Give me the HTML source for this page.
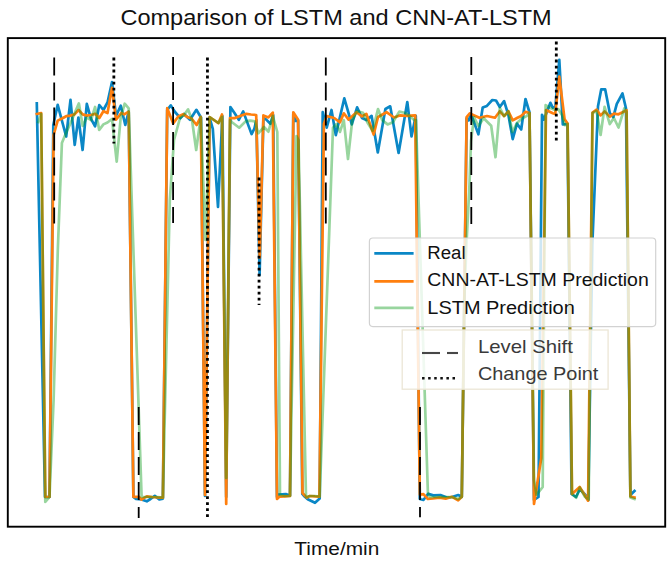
<!DOCTYPE html>
<html><head><meta charset="utf-8"><style>
html,body{margin:0;padding:0;background:#fff;width:672px;height:563px;overflow:hidden;}
svg{display:block;} .t{font-family:'Liberation Sans',sans-serif;}
</style></head><body>
<svg width="672" height="563" viewBox="0 0 672 563">
<rect width="672" height="563" fill="#fff"/>
<g fill="none" stroke-width="2.7" stroke-linejoin="round" stroke-linecap="square">
<polyline points="36.8,103.3 45.0,497.0 46.0,497.0 49.5,497.0 53.3,125.0 57.7,104.8 62.0,121.0 66.2,136.5 70.5,99.9 74.7,144.8 78.4,117.5 82.6,150.0 86.8,103.8 91.0,118.8 95.1,126.3 99.3,105.0 103.4,110.0 107.5,102.5 112.0,82.0 116.0,116.0 120.7,105.7 125.3,125.0 128.7,111.7 133.4,497.0 136.0,499.0 141.4,499.5 146.8,501.3 150.5,499.0 154.8,495.9 159.3,499.5 162.9,498.6 167.2,110.0 170.8,105.4 175.0,112.0 180.4,118.2 184.0,114.0 190.0,119.8 196.4,109.8 201.0,117.5 205.0,496.0 209.6,118.0 212.8,128.8 218.0,207.0 222.4,116.0 226.2,497.0 230.4,107.0 234.5,113.0 238.8,119.8 243.2,111.4 251.6,134.1 254.4,128.5 256.4,120.0 259.6,275.0 263.4,118.0 266.0,119.4 270.4,123.8 273.2,115.0 277.0,497.0 278.5,494.5 285.8,494.0 290.0,495.5 293.3,113.5 295.5,121.0 298.1,120.5 302.3,494.0 304.0,496.0 307.7,499.2 315.0,502.8 319.7,498.6 322.7,112.2 326.7,127.6 331.5,110.0 335.8,135.1 344.3,98.3 351.8,124.4 357.1,107.4 362.0,118.0 366.3,120.1 371.6,115.9 377.8,152.5 385.4,109.0 390.2,106.3 398.6,153.0 407.3,102.0 411.5,136.4 415.8,115.9 419.8,499.0 423.4,500.0 428.3,493.7 433.2,495.4 440.4,495.0 447.5,497.7 452.0,497.0 458.2,495.0 461.8,496.8 466.6,118.5 468.7,120.4 470.9,113.9 478.4,134.3 482.7,107.5 486.9,105.9 492.3,100.0 496.0,100.5 499.8,107.0 504.1,101.1 508.4,115.0 512.7,139.1 517.0,123.6 521.2,129.5 525.5,99.0 529.5,112.5 534.0,500.0 538.5,497.0 542.0,114.8 544.0,119.6 550.4,102.8 552.8,107.6 555.5,106.0 559.3,59.8 562.8,124.4 567.4,124.0 571.6,494.0 576.0,497.0 580.0,489.0 586.3,496.0 588.3,500.0 592.3,245.0 598.0,106.2 601.2,89.4 605.2,89.4 609.8,113.1 613.3,117.1 616.8,103.9 622.5,93.5 626.0,108.5 630.4,495.0 634.5,491.0" stroke="#0a87c6"/>
<polyline points="36.8,114.0 41.2,113.0 45.3,497.0 49.5,497.0 53.6,135.0 57.7,120.6 62.0,118.5 66.2,116.2 70.4,115.6 74.5,114.4 78.6,110.0 82.7,114.4 86.8,115.6 91.0,115.0 95.1,113.8 99.3,118.0 103.4,111.2 107.5,113.0 112.0,87.8 116.0,119.7 121.3,113.0 124.2,114.3 128.7,111.7 133.4,496.8 138.8,496.8 141.4,499.5 146.8,496.3 152.0,497.0 157.5,497.5 162.9,497.7 167.2,108.2 173.2,123.4 178.3,116.5 183.2,114.2 187.2,116.9 191.6,118.6 196.6,125.0 200.8,117.0 205.0,495.0 209.6,117.0 218.4,123.2 222.0,114.4 226.2,504.0 230.0,118.0 234.4,118.2 240.0,116.0 246.4,113.8 251.0,114.5 256.2,115.0 259.7,257.5 263.4,115.4 268.4,117.4 272.8,112.6 277.0,499.0 279.6,496.6 285.0,496.3 290.0,496.0 293.3,112.3 298.1,119.7 302.5,493.0 306.7,497.6 309.8,496.0 315.0,496.4 319.4,496.6 323.9,124.0 326.7,116.0 334.2,118.0 340.0,122.3 343.8,113.3 348.6,119.6 356.6,112.2 361.9,116.4 366.3,113.8 373.7,134.5 378.0,117.0 386.5,112.2 394.0,117.5 399.8,115.4 406.7,115.9 415.2,115.4 419.8,494.6 423.4,494.1 427.9,499.0 433.0,498.5 439.5,497.7 445.7,498.6 452.0,496.8 458.2,500.4 461.8,496.8 466.6,117.2 469.8,113.4 479.4,117.7 487.0,116.0 495.0,117.7 499.8,111.3 504.1,116.1 508.4,111.3 512.7,120.4 517.0,118.0 521.2,116.0 525.5,111.8 529.5,113.0 534.0,504.0 541.3,458.0 546.0,110.0 552.8,113.2 555.2,114.0 559.3,76.6 564.6,119.3 567.6,123.6 572.0,494.0 579.7,487.0 588.1,500.7 592.5,112.5 596.6,109.6 600.6,115.4 604.6,111.4 609.8,116.6 613.9,113.7 618.5,114.3 623.1,112.0 626.6,110.2 630.4,496.5 634.5,497.5" stroke="#ff7f0e"/>
<g stroke-opacity="0.42">
<polyline points="38.3,122.0 41.2,114.0 45.3,502.0 49.5,497.0 53.6,400.0 57.8,250.0 61.9,143.0 66.0,133.0 70.2,124.0 74.3,114.0 78.9,103.4 82.7,126.0 86.8,117.5 91.0,120.0 95.1,107.0 99.2,130.0 103.4,124.4 107.5,122.5 112.0,119.0 116.7,161.7 120.7,117.5 124.7,103.7 128.7,108.3 141.6,497.0 146.8,497.0 152.0,497.0 157.5,497.0 162.9,497.5 169.8,200.0 174.0,140.0 180.0,118.0 184.0,115.0 188.1,109.4 192.0,120.0 196.2,150.0 200.8,117.0 205.5,240.0 209.6,117.0 218.4,123.0 222.0,117.0 226.2,478.0 230.0,120.0 232.0,122.2 239.2,127.7 245.6,121.4 250.4,120.6 254.8,121.4 258.3,133.3 264.0,127.0 268.4,131.7 272.8,116.0 277.3,132.0 280.0,495.0 285.0,496.0 290.0,496.0 296.5,136.0 298.5,140.0 306.0,497.0 309.8,496.0 315.0,496.0 319.7,496.5 333.0,127.6 336.5,124.0 340.0,131.9 343.8,120.2 348.0,159.0 352.3,120.0 357.1,111.1 363.0,112.7 367.3,122.3 372.6,130.8 378.0,109.0 382.2,120.1 387.6,124.4 392.9,122.3 399.3,111.6 404.6,112.7 409.4,115.9 414.2,120.1 416.0,120.0 427.9,493.0 429.6,496.8 440.0,497.0 452.0,497.0 458.2,499.0 461.8,496.8 464.3,300.0 466.7,240.0 469.5,184.0 471.0,141.0 474.0,117.2 478.4,126.0 483.7,118.2 491.2,125.7 495.5,157.2 499.8,108.0 504.1,116.1 508.4,111.3 512.4,132.0 516.9,123.0 522.3,118.2 526.6,116.1 529.5,113.0 534.0,480.0 536.5,495.0 542.7,487.0 545.6,105.2 550.4,108.0 555.2,110.0 558.4,109.2 562.0,115.0 564.8,125.2 567.6,124.0 572.0,494.0 576.2,497.7 579.7,487.6 585.1,497.0 588.7,499.5 592.5,113.0 596.6,111.0 600.6,135.0 604.6,106.8 609.8,124.1 613.9,118.0 618.5,127.5 624.3,108.5 626.6,112.0 630.4,497.5 634.5,499.0" stroke="#0a9b19"/>
</g></g>
<line x1="54.2" y1="57.4" x2="54.2" y2="223.4" stroke="#000" stroke-width="1.8" stroke-dasharray="18 7"/>
<line x1="113.85" y1="57.6" x2="113.85" y2="143.6" stroke="#000" stroke-width="2.8" stroke-dasharray="2.8 3.208"/>
<line x1="173.1" y1="57.0" x2="173.1" y2="223.0" stroke="#000" stroke-width="1.8" stroke-dasharray="18 7"/>
<line x1="207.45" y1="57.6" x2="207.45" y2="517.2" stroke="#000" stroke-width="2.8" stroke-dasharray="2.8 3.208"/>
<line x1="259.05" y1="177.6" x2="259.05" y2="305.0" stroke="#000" stroke-width="2.8" stroke-dasharray="2.8 3.208"/>
<line x1="138.7" y1="406.9" x2="138.7" y2="518.0" stroke="#000" stroke-width="1.8" stroke-dasharray="18 7"/>
<line x1="325.8" y1="57.6" x2="325.8" y2="223.6" stroke="#000" stroke-width="1.8" stroke-dasharray="18 7"/>
<line x1="420.0" y1="407.0" x2="420.0" y2="517.3" stroke="#000" stroke-width="1.8" stroke-dasharray="18 7"/>
<line x1="471.3" y1="57.0" x2="471.3" y2="224.0" stroke="#000" stroke-width="1.8" stroke-dasharray="18 7"/>
<line x1="556.3" y1="41.6" x2="556.3" y2="141.0" stroke="#000" stroke-width="2.8" stroke-dasharray="2.8 3.208"/>
<rect x="7.8" y="38.1" width="657.4" height="488.6" fill="none" stroke="#000" stroke-width="1.9"/>
<text x="120.4" y="25" class="t" font-size="22" fill="#111" textLength="431.3" lengthAdjust="spacingAndGlyphs">Comparison of LSTM and CNN-AT-LSTM</text>
<text x="294.3" y="555" class="t" font-size="17.6" fill="#111" textLength="85" lengthAdjust="spacingAndGlyphs">Time/min</text>
<rect x="369.4" y="238" width="286.3" height="88.6" rx="3.5" fill="#fff" fill-opacity="0.8" stroke="#d2d2d2" stroke-width="1.2"/>
<line x1="374.3" y1="253.4" x2="413.6" y2="253.4" stroke="#0a87c6" stroke-width="2.7"/>
<line x1="374.3" y1="281.3" x2="413.6" y2="281.3" stroke="#ff7f0e" stroke-width="2.7"/>
<line x1="374.3" y1="307.9" x2="413.6" y2="307.9" stroke="#0a9b19" stroke-opacity="0.42" stroke-width="2.7"/>
<text x="427.3" y="258.8" class="t" font-size="18" fill="#111" textLength="38.3" lengthAdjust="spacingAndGlyphs">Real</text>
<text x="427.3" y="286.3" class="t" font-size="18" fill="#111" textLength="221.5" lengthAdjust="spacingAndGlyphs">CNN-AT-LSTM Prediction</text>
<text x="427.3" y="314.3" class="t" font-size="18" fill="#111" textLength="147.5" lengthAdjust="spacingAndGlyphs">LSTM Prediction</text>
<rect x="402.2" y="330" width="205.9" height="59.2" fill="#fff" fill-opacity="0.85" stroke="#ece6d6" stroke-width="1.3"/>
<line x1="422" y1="353" x2="440" y2="353" stroke="#474747" stroke-width="2.1"/>
<line x1="447" y1="353" x2="458" y2="353" stroke="#474747" stroke-width="2.1"/>
<rect x="422.05" y="377" width="2.5" height="2.5" fill="#111"/>
<rect x="428.14" y="377" width="2.5" height="2.5" fill="#111"/>
<rect x="434.23" y="377" width="2.5" height="2.5" fill="#111"/>
<rect x="440.32" y="377" width="2.5" height="2.5" fill="#111"/>
<rect x="446.41" y="377" width="2.5" height="2.5" fill="#111"/>
<rect x="452.50" y="377" width="2.5" height="2.5" fill="#111"/>
<text x="477.9" y="352.7" class="t" font-size="19" fill="#3a3a3a" textLength="95" lengthAdjust="spacingAndGlyphs">Level Shift</text>
<text x="477.9" y="379.8" class="t" font-size="19" fill="#3a3a3a" textLength="120.5" lengthAdjust="spacingAndGlyphs">Change Point</text>
</svg>
</body></html>
